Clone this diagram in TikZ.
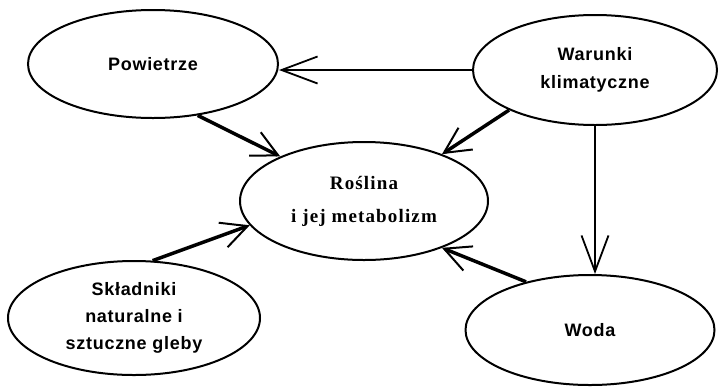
\documentclass[tikz,border=0pt]{standalone}
\usepackage{fontspec}
\setmainfont{Liberation Serif}
\setsansfont{Liberation Sans}
\newfontfamily\lblfont[LetterSpace=4]{Liberation Sans}
\newfontfamily\serlblfont[LetterSpace=6]{Liberation Serif}
\usetikzlibrary{shapes.geometric,arrows.meta}
\begin{document}
\begin{tikzpicture}[x=1pt,y=-1pt,
  oval/.style={ellipse,draw,line width=2pt,inner sep=0pt,align=center,
    font=\lblfont\bfseries\fontsize{18}{28}\selectfont},
  thinarr/.style={line width=1.8pt,-{Straight Barb[length=36pt,width=27pt,line width=1.8pt]}},
  thickarr/.style={line width=3.5pt,-{Straight Barb[length=26pt,width=26pt,line width=2pt]}}
]
\useasboundingbox (0,0) rectangle (719,386);

\node[oval,minimum width=250,minimum height=108] (pow) at (153,64) {Powietrze};
\node[oval,minimum width=244,minimum height=110] (war) at (595,70) {Warunki\\klimatyczne};
\node[oval,minimum width=248,minimum height=118,
  font=\serlblfont\bfseries\fontsize{19}{33}\selectfont] (ros) at (364,201) {Roślina\\i jej metabolizm};
\node[oval,minimum width=252,minimum height=114,
  font=\lblfont\bfseries\fontsize{18}{27}\selectfont] (skl) at (134,318) {Składniki\\naturalne i\\sztuczne gleby};
\node[oval,minimum width=249,minimum height=110] (woda) at (590,330) {Woda};

\draw[thickarr] (pow.-49) -- (ros.152);
\draw[thinarr] (war.west) -- (pow.east |- war.west);
\draw[thickarr] (war.-155) -- (ros.31);
\draw[thinarr] (war.south) -- (war.south |- woda.north);
\draw[thickarr] (skl.72) -- (ros.-168);
\draw[thickarr] (woda.143) -- (ros.-31);
\end{tikzpicture}
\end{document}
